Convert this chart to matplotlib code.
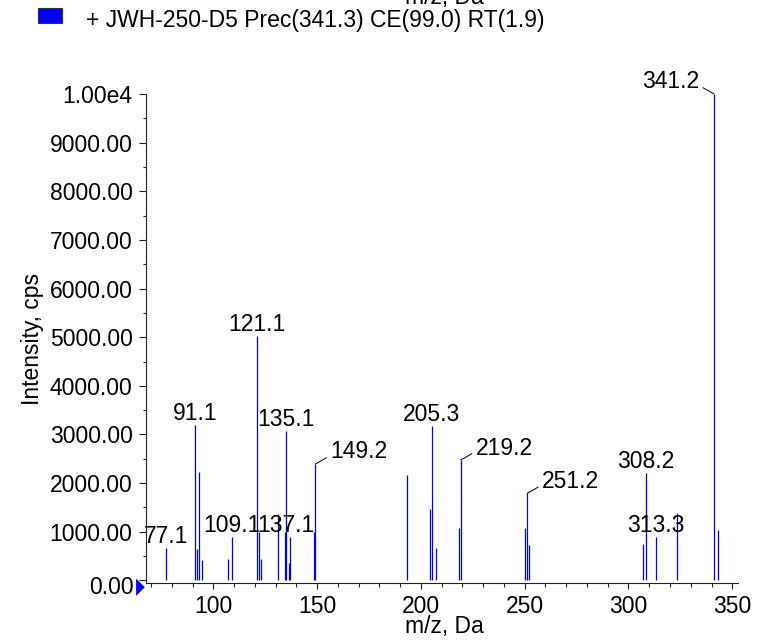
import matplotlib
matplotlib.use('Agg')
import matplotlib.pyplot as plt
from matplotlib.patches import Rectangle
from matplotlib.ticker import MultipleLocator

plt.rcParams['font.family'] = ['Liberation Sans', 'DejaVu Sans']

# ---- data ----
mz = [77.1, 91.1, 92.3, 93.3, 94.4, 107.2, 109.1, 121.1, 122.2, 122.8,
      131.3, 134.4, 135.1, 136.6, 137.1, 148.5, 149.2, 193.4, 204.4, 205.3,
      207.2, 218.4, 219.2, 250.2, 251.2, 252.2, 307.1, 308.2, 313.3, 323.2,
      341.2, 343.3]
intensity = [660, 3195, 640, 2229, 420, 433, 898, 5020, 1001, 446,
             1365, 1000, 3078, 364, 886, 1000, 2393, 2167, 1461, 3181,
             660, 1084, 2475, 1084, 1790, 728, 748, 2202, 886, 1380,
             10000, 1036]
label_mz = [77.1, 91.1, 109.1, 121.1, 135.1, 137.1, 149.2, 205.3, 219.2,
            251.2, 308.2, 313.3, 341.2]
label_text = ['77.1', '91.1', '109.1', '121.1', '135.1', '137.1', '149.2',
              '205.3', '219.2', '251.2', '308.2', '313.3', '341.2']
ytick_values = [0, 1000, 2000, 3000, 4000, 5000, 6000, 7000, 8000, 9000, 10000]
ytick_labels = ['', '1000.00', '2000.00', '3000.00', '4000.00', '5000.00',
                '6000.00', '7000.00', '8000.00', '9000.00', '1.00e4']
xtick_values = [100, 150, 200, 250, 300, 350]
title = '+ JWH-250-D5 Prec(341.3) CE(99.0) RT(1.9)'
xlabel = 'm/z, Da'
ylabel = 'Intensity, cps'

FS = 16.5
W, H = 758, 641
fig = plt.figure(figsize=(W / 100, H / 100), dpi=100)
L, R, T, B = 145.7, 738.3, 94.0, 583.3
ax = fig.add_axes([L / W, 1 - B / H, (R - L) / W, (B - T) / H])

ax.vlines(mz, 0, intensity, color='#0000ff', lw=0.9)
ax.set_xlim(67.4, 352.9)
ax.set_ylim(-60, 10000)

for s in ['top', 'right']:
    ax.spines[s].set_visible(False)
for s in ['left', 'bottom']:
    ax.spines[s].set_linewidth(0.8)
    ax.spines[s].set_color('#222222')

ax.set_xticks(xtick_values)
ax.xaxis.set_minor_locator(MultipleLocator(10))
ax.set_yticks(ytick_values)
ax.set_yticklabels(ytick_labels)
ax.yaxis.set_minor_locator(MultipleLocator(500))
ax.tick_params(axis='both', which='both', direction='out', width=0.8,
               color='#222222', labelsize=FS)
ax.tick_params(axis='x', which='major', length=4.3, pad=4.2)
ax.tick_params(axis='x', which='minor', length=2.6)
ax.tick_params(axis='y', which='major', length=5.3, pad=4.2)
ax.tick_params(axis='y', which='minor', length=2.4)

# zero label placed slightly lower, as in the reference
ax.annotate('0.00', xy=(0, 0), xycoords=('axes fraction', 'data'),
            xytext=(-11.5, -7.5), textcoords='offset pixels',
            ha='right', va='center', fontsize=FS, annotation_clip=False)

# blue triangle marker at origin
ax.plot([64.85], [-138], marker=[(-0.5, -1), (-0.5, 1), (0.5, 0)],
        markersize=11.5, color='#0000ff', markeredgecolor='#0000aa',
        markeredgewidth=0.5, clip_on=False, zorder=5)

ax.set_xlabel(xlabel, fontsize=FS)
ax.xaxis.set_label_coords((444 - L) / (R - L), (B - 626) / (B - T))
ax.xaxis.label.set_va('center')
ax.set_ylabel(ylabel, fontsize=FS)
ax.yaxis.set_label_coords((33 - L) / (R - L), (B - 339) / (B - T))
ax.yaxis.label.set_va('center')

# peak labels
leader = {'149.2': (15, 12, 'left'), '219.2': (15, 12, 'left'),
          '251.2': (15, 12, 'left'), '341.2': (-15, 12, 'right')}
shift = {'137.1': -4}
lookup = dict(zip(mz, intensity))
for m, t in zip(label_mz, label_text):
    y = lookup[m]
    if t in leader:
        dx, dy, ha = leader[t]
        ax.annotate(t, xy=(m, y), xytext=(dx, dy), textcoords='offset pixels',
                    ha=ha, va='center', fontsize=FS, annotation_clip=False,
                    arrowprops=dict(arrowstyle='-', color='black', lw=0.7,
                                    shrinkA=1, shrinkB=0,
                                    relpos=(0 if ha == 'left' else 1, 0.35)))
    else:
        ax.annotate(t, xy=(m, y), xytext=(shift.get(t, 0), 5),
                    textcoords='offset pixels', ha='center', va='baseline',
                    fontsize=FS, annotation_clip=False)

# legend / header
fig.add_artist(Rectangle((38 / W, 1 - 23 / H), 24 / W, 15 / H,
                         transform=fig.transFigure, facecolor='#0000ff',
                         edgecolor='#333333', lw=0.8))
fig.text(86 / W, 1 - 20 / H, title, ha='left', va='center', fontsize=FS)
# clipped axis title of previous pane at the very top
fig.text(444 / W, 1 - 4 / H, xlabel, ha='center', va='baseline', fontsize=FS)

fig.savefig('out.png', dpi=100)
